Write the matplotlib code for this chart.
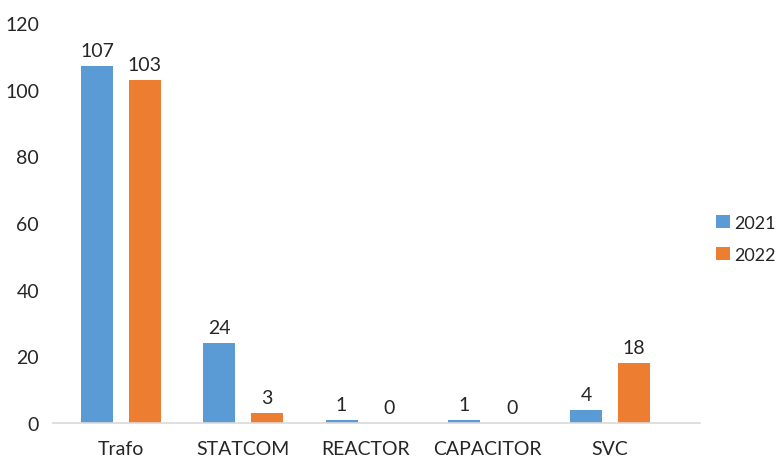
import matplotlib
matplotlib.use("Agg")
import matplotlib.pyplot as plt
import numpy as np

categories = ["Trafo", "STATCOM", "REACTOR", "CAPACITOR", "SVC"]
series_names = ["2021", "2022"]
values_2021 = [107, 24, 1, 1, 4]
values_2022 = [103, 3, 0, 0, 18]
y_ticks = [0, 20, 40, 60, 80, 100, 120]

plt.rcParams["font.family"] = ["Lato", "DejaVu Sans"]
text_color = "#262626"
colors = ["#5B9BD5", "#ED7D31"]
fs = 14

fig = plt.figure(figsize=(7.81, 4.60), dpi=100)
ax = fig.add_axes([53 / 781, 36 / 460, 647 / 781, 400 / 460])

x = np.arange(len(categories))
width = 0.262
offset = 0.196

for vals, name, color, sign in [(values_2021, series_names[0], colors[0], -1),
                                (values_2022, series_names[1], colors[1], 1)]:
    bars = ax.bar(x + sign * offset, vals, width, color=color, label=name, zorder=2)
    for rect, v in zip(bars, vals):
        ax.annotate(str(v), (rect.get_x() + rect.get_width() / 2, v),
                    xytext=(0, 5), textcoords="offset points",
                    ha="center", va="bottom", fontsize=fs, color=text_color)

ax.set_xlim(-0.556, 4.736)
ax.set_ylim(0, 120)
ax.set_yticks(y_ticks)
ax.set_xticks(x)
ax.set_xticklabels(categories)
ax.tick_params(axis="both", length=0, labelsize=fs, colors=text_color)
ax.tick_params(axis="y", pad=10)
ax.tick_params(axis="x", pad=12)

for side in ["top", "right", "left"]:
    ax.spines[side].set_visible(False)
ax.spines["bottom"].set_color("#D9D9D9")
ax.spines["bottom"].set_linewidth(1.2)

leg = fig.legend(loc="center left", bbox_to_anchor=(716 / 781, 1 - 240 / 460),
                 frameon=False, fontsize=13, handlelength=0.75, handleheight=0.75,
                 handletextpad=0.25, labelspacing=0.9, borderaxespad=0, borderpad=0)
for t in leg.get_texts():
    t.set_color(text_color)

fig.savefig("out.png", dpi=100)
